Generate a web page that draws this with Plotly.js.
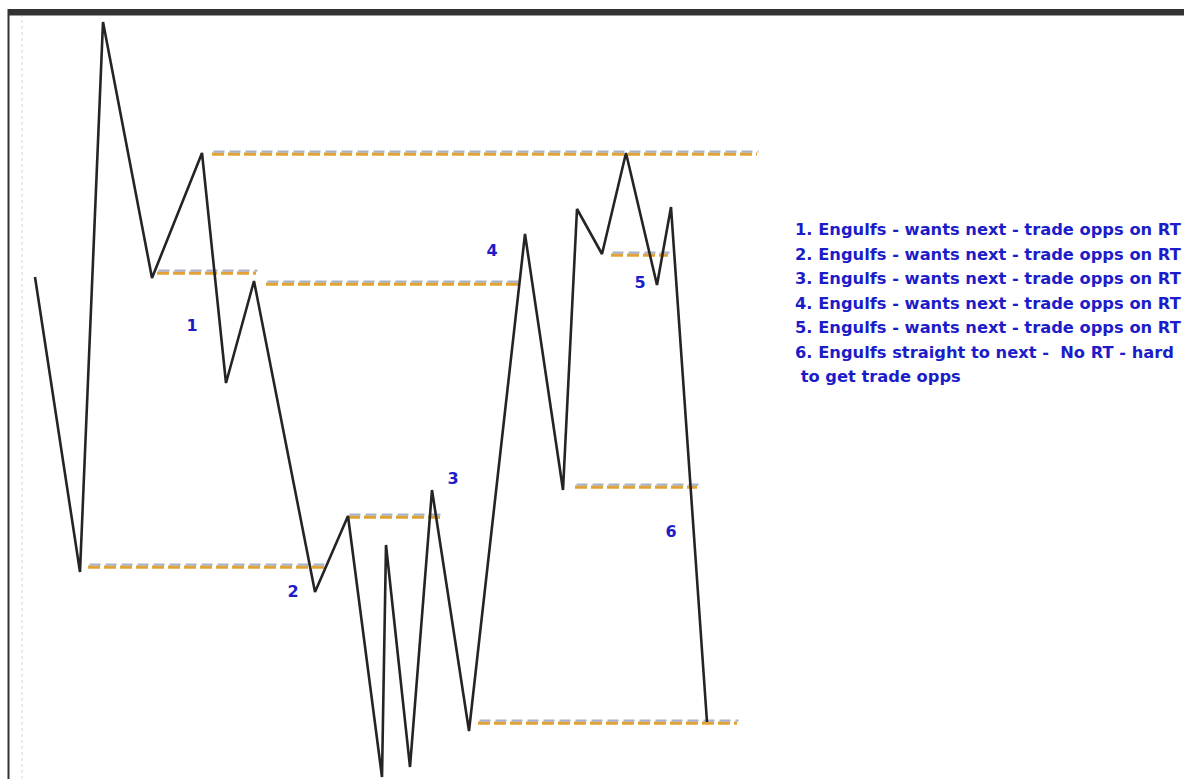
<!DOCTYPE html>
<html><head><meta charset="utf-8">
<script src="https://cdn.plot.ly/plotly-3.0.1.min.js"></script>
<style>html,body{margin:0;padding:0;background:#fff;}#chart{width:1184px;height:779px;}</style>
</head><body><div id="chart"></div>
<script>
// Swing path: time and price values
var swingTime  = [35, 80, 103, 152, 202, 226, 254, 315, 348, 382, 386, 410, 432, 469, 525, 563, 577, 602, 626, 657, 671, 707];
var swingPrice = [502, 207, 757, 501, 626, 396, 498, 187, 263, 2, 234, 12, 289, 48, 545, 289, 570, 525, 626, 494, 572, 57];

// Horizontal levels: price, start time, end time
var levelPrice = [626, 507, 496, 213, 263, 293, 525, 57];
var levelStart = [212, 157, 266, 88, 348, 575, 611, 478];
var levelEnd   = [757, 256, 522, 324, 443, 697, 668, 737];

// Numbered labels
var labelText  = ['1', '2', '3', '4', '5', '6'];
var labelTime  = [192, 293, 453, 492, 640, 671];
var labelPrice = [452, 186, 299, 527, 495, 246];

// Notes
var noteLines = [
  '1. Engulfs - wants next - trade opps on RT',
  '2. Engulfs - wants next - trade opps on RT',
  '3. Engulfs - wants next - trade opps on RT',
  '4. Engulfs - wants next - trade opps on RT',
  '5. Engulfs - wants next - trade opps on RT',
  '6. Engulfs straight to next -  No RT - hard',
  ' to get trade opps'
];

var traces = [];
for (var i = 0; i < levelPrice.length; i++) {
  traces.push({x: [levelStart[i], levelEnd[i]], y: [levelPrice[i] - 1.2, levelPrice[i] - 1.2], mode: 'lines',
    line: {color: '#e3a235', width: 3.2, dash: '12px,4px'}, hoverinfo: 'skip', showlegend: false});
  traces.push({x: [levelStart[i] + 1.5, levelEnd[i] + 1.5], y: [levelPrice[i] + 1.4, levelPrice[i] + 1.4], mode: 'lines',
    line: {color: '#a8b2c4', width: 2.4, dash: '11px,5px'}, hoverinfo: 'skip', showlegend: false});
}
traces.push({x: swingTime, y: swingPrice, mode: 'lines', line: {color: '#242424', width: 2.6},
  hoverinfo: 'skip', showlegend: false});
traces.push({x: labelTime, y: labelPrice, mode: 'text', text: labelText.map(function (s) { return '<b>' + s + '</b>'; }),
  textfont: {family: 'DejaVu Sans', size: 16, color: '#1c1cc8'},
  textposition: 'middle center', hoverinfo: 'skip', showlegend: false});

var annotations = noteLines.map(function (t, k) {
  return {xref: 'paper', yref: 'paper', x: 793 / 1184, y: 1 - (230 + k * 24.4) / 779,
    xanchor: 'left', yanchor: 'middle', showarrow: false, text: '<b>' + t + '</b>',
    font: {family: 'DejaVu Sans', size: 16.3, color: '#1c1cc8'}};
});

var layout = {
  width: 1184, height: 779,
  margin: {l: 0, r: 0, t: 0, b: 0},
  paper_bgcolor: '#ffffff', plot_bgcolor: '#ffffff',
  xaxis: {range: [0, 1184], visible: false, fixedrange: true},
  yaxis: {range: [0, 779], visible: false, fixedrange: true},
  showlegend: false,
  annotations: annotations,
  shapes: [
    {type: 'rect', xref: 'paper', yref: 'paper', x0: 8 / 1184, x1: 1, y0: 1 - 15.5 / 779, y1: 1 - 9 / 779,
      fillcolor: '#333333', line: {width: 0}},
    {type: 'line', xref: 'paper', yref: 'paper', x0: 8.5 / 1184, x1: 8.5 / 1184, y0: 0, y1: 1 - 9 / 779,
      line: {color: '#333333', width: 2}},
    {type: 'line', xref: 'paper', yref: 'paper', x0: 22 / 1184, x1: 22 / 1184, y0: 0, y1: 1 - 16 / 779,
      line: {color: '#d6d6d6', width: 1, dash: 'dot'}}
  ]
};

Plotly.newPlot('chart', traces, layout, {displayModeBar: false, staticPlot: true});
</script></body></html>
